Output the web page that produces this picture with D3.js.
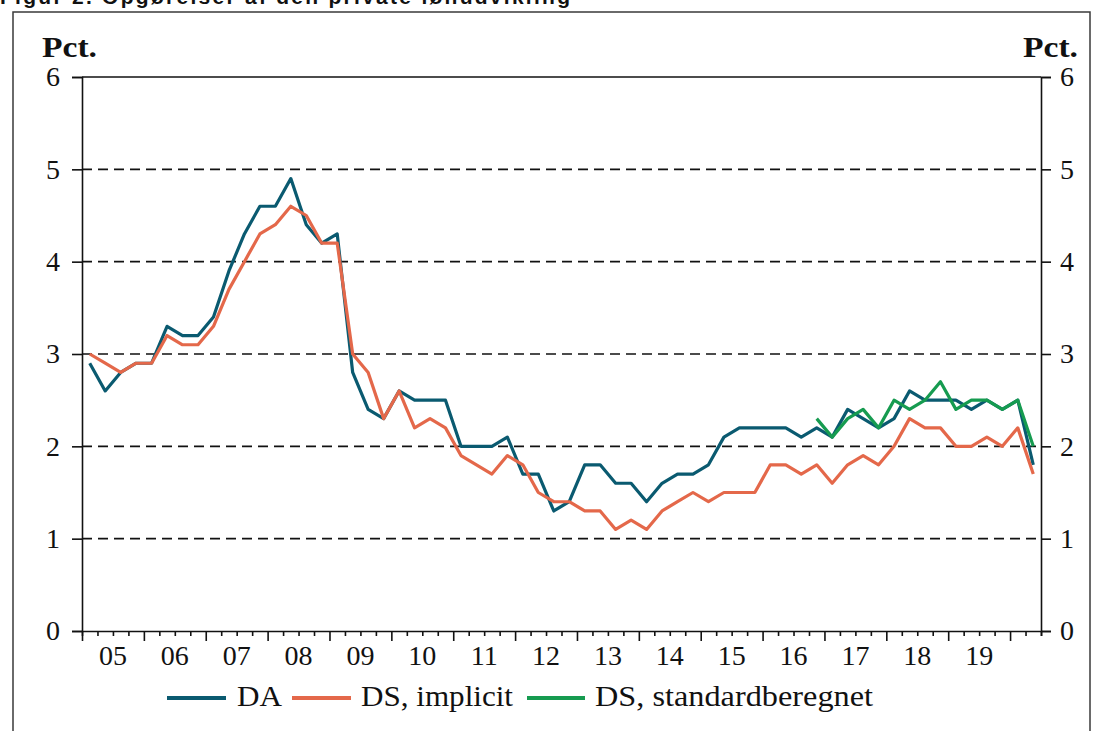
<!DOCTYPE html>
<html>
<head>
<meta charset="utf-8">
<script src="https://cdn.jsdelivr.net/npm/d3@7"></script>
<style>
    body { margin: 0; background: #fff; }
    svg { display: block; }
</style>
</head>
<body>
<svg id="chart" width="1098" height="731"></svg>
<script>
// quarterly, 2005Q1 - 2020Q2
const yearLabels = ["05", "06", "07", "08", "09", "10", "11", "12", "13", "14", "15", "16", "17", "18", "19"];
const yTicks = [0, 1, 2, 3, 4, 5, 6];

const daValues = [
    2.9, 2.6, 2.8, 2.9, 2.9, 3.3, 3.2, 3.2, 3.4, 3.9,
    4.3, 4.6, 4.6, 4.9, 4.4, 4.2, 4.3, 2.8, 2.4, 2.3,
    2.6, 2.5, 2.5, 2.5, 2.0, 2.0, 2.0, 2.1, 1.7, 1.7,
    1.3, 1.4, 1.8, 1.8, 1.6, 1.6, 1.4, 1.6, 1.7, 1.7,
    1.8, 2.1, 2.2, 2.2, 2.2, 2.2, 2.1, 2.2, 2.1, 2.4,
    2.3, 2.2, 2.3, 2.6, 2.5, 2.5, 2.5, 2.4, 2.5, 2.4,
    2.5, 1.8
];
const dsImplicitValues = [
    3.0, 2.9, 2.8, 2.9, 2.9, 3.2, 3.1, 3.1, 3.3, 3.7,
    4.0, 4.3, 4.4, 4.6, 4.5, 4.2, 4.2, 3.0, 2.8, 2.3,
    2.6, 2.2, 2.3, 2.2, 1.9, 1.8, 1.7, 1.9, 1.8, 1.5,
    1.4, 1.4, 1.3, 1.3, 1.1, 1.2, 1.1, 1.3, 1.4, 1.5,
    1.4, 1.5, 1.5, 1.5, 1.8, 1.8, 1.7, 1.8, 1.6, 1.8,
    1.9, 1.8, 2.0, 2.3, 2.2, 2.2, 2.0, 2.0, 2.1, 2.0,
    2.2, 1.7
];
// standardberegnet starts in 2016Q4
const dsStandardStart = 47;
const dsStandardValues = [2.3, 2.1, 2.3, 2.4, 2.2, 2.5, 2.4, 2.5, 2.7, 2.4, 2.5, 2.5, 2.4, 2.5, 2.0];

const seriesNames = ["DA", "DS, implicit", "DS, standardberegnet"];
const nQuarters = 62;

class QuarterChart {
    constructor(canvas) {
        this.canvas = canvas;
        this.left = 82;
        this.right = 1041;
        this.top = 77;
        this.bottom = 631;
        this.colors = ["#0a5a70", "#e4684a", "#169b50"];
        this.font = "'Liberation Serif', 'Times New Roman', serif";
    }

    graphScales() {
        this.x = d3.scaleLinear()
            .domain([0, nQuarters])
            .range([this.left, this.right]);
        this.y = d3.scaleLinear()
            .domain([0, 6])
            .range([this.bottom, this.top]);
    }

    graphFrame() {
        this.canvas.append("rect")
            .attr("x", 13).attr("y", 12)
            .attr("width", 1077).attr("height", 760)
            .attr("fill", "none")
            .attr("stroke", "#3a3a3a")
            .attr("stroke-width", 1.5);

        // title, cut by the top edge as in the source
        this.canvas.append("text")
            .text("Figur 2. Opgørelser af den private lønudvikling")
            .attr("x", 0).attr("y", 4)
            .attr("font-family", "'Liberation Sans', Arial, sans-serif")
            .attr("font-weight", "bold")
            .attr("font-size", 21)
            .attr("textLength", 570)
            .attr("fill", "#111");
    }

    graphAxes() {
        const g = this.canvas.append("g");

        // dashed gridlines 1..5
        g.selectAll("line.grid")
            .data(yTicks.filter(d => d > 0 && d < 6))
            .enter().append("line")
            .attr("class", "grid")
            .attr("x1", this.left).attr("x2", this.right)
            .attr("y1", d => this.y(d)).attr("y2", d => this.y(d))
            .attr("stroke", "#111")
            .attr("stroke-width", 1.6)
            .attr("stroke-dasharray", "10,6");

        // top border
        g.append("line")
            .attr("x1", this.left).attr("x2", this.right)
            .attr("y1", this.top).attr("y2", this.top)
            .attr("stroke", "#111").attr("stroke-width", 1.6);

        // left + right axes
        const yLeft = d3.axisLeft(this.y).tickValues(yTicks).tickFormat(d3.format("d"))
            .tickSize(10).tickPadding(12);
        const yRight = d3.axisRight(this.y).tickValues(yTicks).tickFormat(d3.format("d"))
            .tickSize(10).tickPadding(9);

        const leftGroup = g.append("g").attr("transform", `translate(${this.left}, 0)`).call(yLeft);
        const rightGroup = g.append("g").attr("transform", `translate(${this.right}, 0)`).call(yRight);

        [leftGroup, rightGroup].forEach(ax => {
            ax.select(".domain").attr("stroke", "#111").attr("stroke-width", 1.6);
            ax.selectAll(".tick line").attr("stroke", "#111").attr("stroke-width", 1.6);
            ax.selectAll("text")
                .attr("font-family", this.font)
                .attr("font-size", 28)
                .attr("fill", "#111");
        });

        // bottom axis, one tick each quarter, long ticks at years
        const xAxis = d3.axisBottom(this.x)
            .tickValues(d3.range(0, nQuarters + 1))
            .tickFormat("")
            .tickSizeOuter(0)
            .tickSize(5);
        const xGroup = g.append("g")
            .attr("transform", `translate(0, ${this.bottom})`)
            .call(xAxis);
        xGroup.select(".domain").attr("stroke", "#111").attr("stroke-width", 1.6);
        xGroup.selectAll(".tick line")
            .attr("stroke", "#111")
            .attr("stroke-width", 1.6)
            .attr("y2", d => d % 4 === 0 ? 10 : 5);

        g.selectAll("text.year")
            .data(yearLabels)
            .enter().append("text")
            .attr("class", "year")
            .text(d => d)
            .attr("x", (d, i) => this.x(i * 4 + 2))
            .attr("y", 665)
            .attr("text-anchor", "middle")
            .attr("font-family", this.font)
            .attr("font-size", 28)
            .attr("fill", "#111");

        // unit labels
        [[42, "start"], [1078, "end"]].forEach(([x, anchor]) => {
            g.append("text")
                .text("Pct.")
                .attr("x", x).attr("y", 57)
                .attr("text-anchor", anchor)
                .attr("font-family", this.font)
                .attr("font-weight", "bold")
                .attr("font-size", 29)
                .attr("textLength", 55)
                .attr("lengthAdjust", "spacingAndGlyphs")
                .attr("fill", "#111");
        });
    }

    graphLines() {
        const line = d3.line()
            .defined(d => d.v != null)
            .x(d => this.x(d.i + 0.5))
            .y(d => this.y(d.v));

        const series = [
            daValues.map((v, i) => ({ i, v })),
            dsImplicitValues.map((v, i) => ({ i, v })),
            dsStandardValues.map((v, k) => ({ i: dsStandardStart + k, v }))
        ];

        this.canvas.append("g")
            .selectAll("path")
            .data(series)
            .enter().append("path")
            .attr("d", line)
            .attr("fill", "none")
            .attr("stroke", (d, i) => this.colors[i])
            .attr("stroke-width", 3.2)
            .attr("stroke-linejoin", "round");
    }

    graphLegend() {
        const items = [
            { x1: 167, x2: 226, tx: 237, len: 45 },
            { x1: 292, x2: 351, tx: 361, len: 152 },
            { x1: 527, x2: 585, tx: 595, len: 278 }
        ];
        const legend = this.canvas.append("g");
        const rows = legend.selectAll("g")
            .data(items)
            .enter().append("g");

        rows.append("line")
            .attr("x1", d => d.x1).attr("x2", d => d.x2)
            .attr("y1", 698).attr("y2", 698)
            .attr("stroke", (d, i) => this.colors[i])
            .attr("stroke-width", 4);

        rows.append("text")
            .text((d, i) => seriesNames[i])
            .attr("x", d => d.tx)
            .attr("y", 706)
            .attr("font-family", this.font)
            .attr("font-size", 29)
            .attr("textLength", d => d.len)
            .attr("lengthAdjust", "spacingAndGlyphs")
            .attr("fill", "#111");
    }

    grapher() {
        this.graphScales();
        this.graphFrame();
        this.graphAxes();
        this.graphLines();
        this.graphLegend();
    }
}

const chart = new QuarterChart(d3.select("#chart"));
chart.grapher();
</script>
</body>
</html>
